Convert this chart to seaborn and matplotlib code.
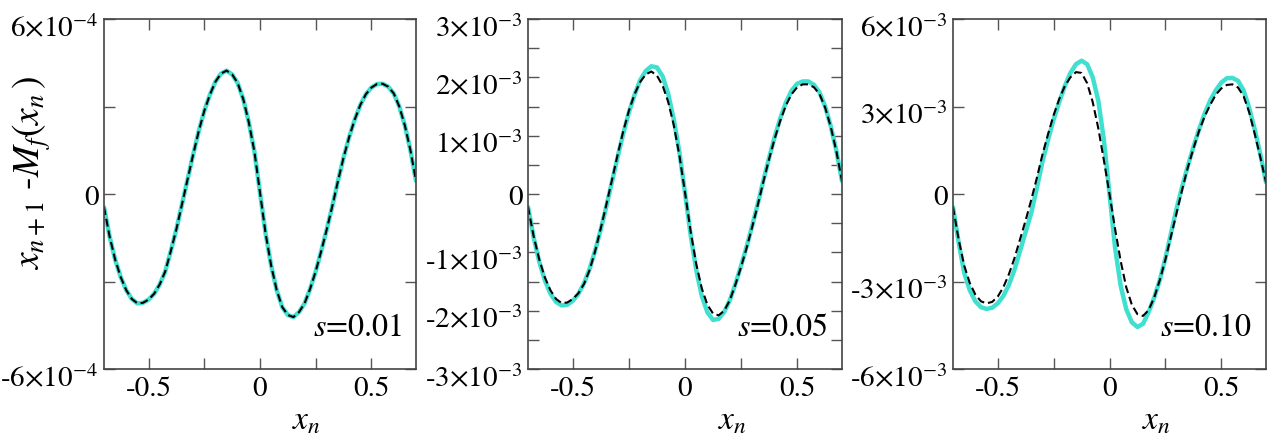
import numpy as np
import pandas as pd
import matplotlib
matplotlib.use("Agg")
import matplotlib.pyplot as plt
import matplotlib.transforms as mtransforms
from matplotlib.ticker import MultipleLocator, FuncFormatter
import seaborn as sns

# sample positions x_n (step 0.025 from -0.70 to 0.70)
x_n = np.round(np.linspace(-0.70, 0.70, 57), 3)

# s = 0.01, units of 1e-4 (exact and approximate curves coincide)
exact_s01 = [-0.45, -1.45, -2.25, -2.85, -3.30, -3.60, -3.75, -3.73, -3.62, -3.42,
             -3.10, -2.65, -1.95, -1.20, -0.35, 0.50, 1.35, 2.15, 2.85, 3.40,
             3.85, 4.13, 4.23, 4.10, 3.80, 3.25, 2.45, 1.45, 0.05, -1.35,
             -2.45, -3.30, -3.88, -4.15, -4.22, -4.05, -3.75, -3.25, -2.65, -1.95,
             -1.20, -0.40, 0.45, 1.25, 1.95, 2.55, 3.05, 3.42, 3.65, 3.77,
             3.78, 3.68, 3.45, 3.00, 2.35, 1.50, 0.45]
approx_s01 = exact_s01

# s = 0.05, units of 1e-3
exact_s05 = [-0.22, -0.74, -1.16, -1.48, -1.71, -1.85, -1.91, -1.90, -1.83, -1.71,
             -1.53, -1.28, -0.96, -0.60, -0.20, 0.22, 0.64, 1.04, 1.40, 1.70,
             1.95, 2.11, 2.19, 2.17, 2.02, 1.72, 1.28, 0.72, 0.02, -0.70,
             -1.30, -1.75, -2.03, -2.16, -2.14, -2.02, -1.82, -1.54, -1.23, -0.90,
             -0.54, -0.16, 0.24, 0.62, 0.98, 1.30, 1.57, 1.77, 1.89, 1.93,
             1.93, 1.87, 1.74, 1.50, 1.16, 0.74, 0.22]
approx_s05 = [-0.22, -0.72, -1.12, -1.43, -1.65, -1.80, -1.87, -1.86, -1.80, -1.70,
              -1.54, -1.30, -0.97, -0.58, -0.17, 0.25, 0.68, 1.08, 1.43, 1.71,
              1.92, 2.05, 2.10, 2.03, 1.86, 1.58, 1.18, 0.66, 0.03, -0.64,
              -1.20, -1.62, -1.90, -2.05, -2.08, -2.00, -1.82, -1.55, -1.25, -0.92,
              -0.56, -0.18, 0.22, 0.60, 0.95, 1.26, 1.52, 1.71, 1.83, 1.88,
              1.88, 1.83, 1.71, 1.48, 1.15, 0.73, 0.22]

# s = 0.10, units of 1e-3
exact_s10 = [-0.45, -1.65, -2.70, -3.30, -3.68, -3.88, -3.94, -3.90, -3.75, -3.50,
             -3.12, -2.60, -1.95, -1.30, -0.65, 0.20, 1.10, 1.85, 2.55, 3.15,
             3.70, 4.15, 4.45, 4.57, 4.45, 4.00, 3.20, 1.85, 0.00, -1.85,
             -3.15, -3.95, -4.40, -4.56, -4.45, -4.05, -3.55, -2.95, -2.20, -1.35,
             -0.50, 0.25, 0.95, 1.60, 2.20, 2.75, 3.20, 3.55, 3.82, 3.97,
             3.98, 3.88, 3.55, 2.95, 2.20, 1.35, 0.40]
approx_s10 = [-0.45, -1.55, -2.45, -3.05, -3.45, -3.68, -3.75, -3.70, -3.52, -3.20,
              -2.75, -2.20, -1.55, -0.90, -0.20, 0.55, 1.35, 2.05, 2.70, 3.25,
              3.70, 4.00, 4.18, 4.15, 3.80, 3.15, 2.25, 1.15, 0.00, -1.20,
              -2.30, -3.20, -3.80, -4.12, -4.18, -3.98, -3.55, -2.95, -2.25, -1.45,
              -0.65, 0.15, 0.90, 1.55, 2.15, 2.65, 3.05, 3.40, 3.62, 3.74,
              3.76, 3.65, 3.35, 2.80, 2.05, 1.25, 0.40]

s_labels = ["0.01", "0.05", "0.10"]

# (exact, approx, unit, ymax, major step, minor step, exponent)
panels = [
    (exact_s01, approx_s01, 1e-4, 6e-4, 6e-4, 3e-4, -4),
    (exact_s05, approx_s05, 1e-3, 3e-3, 1e-3, 5e-4, -3),
    (exact_s10, approx_s10, 1e-3, 6e-3, 3e-3, 3e-3, -3),
]
lefts = [104, 528, 953]
widths = [312, 314, 313]

sns.set_theme(style="ticks")
plt.rcParams["font.family"] = ["STIXGeneral", "DejaVu Serif"]
plt.rcParams["mathtext.fontset"] = "stix"
for key in ["text.color", "axes.labelcolor", "xtick.labelcolor", "ytick.labelcolor"]:
    plt.rcParams[key] = "black"

W, H = 1271, 441
fig = plt.figure(figsize=(W / 100, H / 100), dpi=100)


def sci_label(exp):
    def fmt(v, pos):
        if abs(v) < 1e-12:
            return "0"
        m = int(round(v / 10 ** exp))
        return "%d\u00d710$^{%d}$" % (m, exp)
    return fmt


axes = []
for i, (ex, ap, unit, ymax, major, minor, exp) in enumerate(panels):
    ax = fig.add_axes([lefts[i] / W, (H - 369) / H, widths[i] / W, 350 / H])
    axes.append(ax)
    df = pd.DataFrame({"x": x_n,
                       "exact": np.array(ex) * unit,
                       "approx": np.array(ap) * unit})
    sns.lineplot(data=df, x="x", y="exact", ax=ax, color="#40E0D0",
                 linewidth=3.2, sort=False, estimator=None)
    sns.lineplot(data=df, x="x", y="approx", ax=ax, color="black",
                 linewidth=1.5, sort=False, estimator=None)
    ax.lines[0].set_solid_joinstyle("round")
    ax.lines[-1].set_dashes([3.8, 1.9])
    ax.lines[-1].set_dash_joinstyle("round")

    ax.set_xlim(-0.7, 0.7)
    ax.set_ylim(-ymax, ymax)
    ax.xaxis.set_major_locator(MultipleLocator(0.5))
    ax.xaxis.set_minor_locator(MultipleLocator(0.25))
    ax.xaxis.set_major_formatter(FuncFormatter(lambda v, p: "%g" % v if abs(v) > 1e-9 else "0"))
    ax.yaxis.set_major_locator(MultipleLocator(major))
    ax.yaxis.set_minor_locator(MultipleLocator(minor))
    ax.yaxis.set_major_formatter(FuncFormatter(sci_label(exp)))
    ax.tick_params(which="both", direction="in", top=True, right=True,
                   length=8, width=1.0, color="#555555")
    ax.tick_params(axis="both", labelsize=21, pad=4)
    ax.tick_params(axis="x", pad=6)
    for sp in ax.spines.values():
        sp.set_color("#444444")
        sp.set_linewidth(1.2)

    ax.set_xlabel("$x_n$", fontsize=24)
    ax.xaxis.set_label_coords(0.65, -0.11)
    if i == 0:
        ax.set_ylabel("$x_{n+1}$ -$M_f(x_n\\,)$", fontsize=27)
        ax.yaxis.set_label_coords(-0.165, 0.56)
    else:
        ax.set_ylabel("")
    ax.text(0.955, 0.095, "$s$=" + s_labels[i], transform=ax.transAxes,
            ha="right", va="baseline", fontsize=23)

# y tick labels sit on a baseline below the tick, like the original
fig.canvas.draw()
for ax in axes:
    for lab in ax.get_yticklabels():
        drop = 11 if lab.get_text() == "0" else 18
        off = mtransforms.ScaledTranslation(0, -drop / 100, fig.dpi_scale_trans)
        lab.set_verticalalignment("baseline")
        lab.set_transform(lab.get_transform() + off)

fig.savefig("out.png", dpi=100)
